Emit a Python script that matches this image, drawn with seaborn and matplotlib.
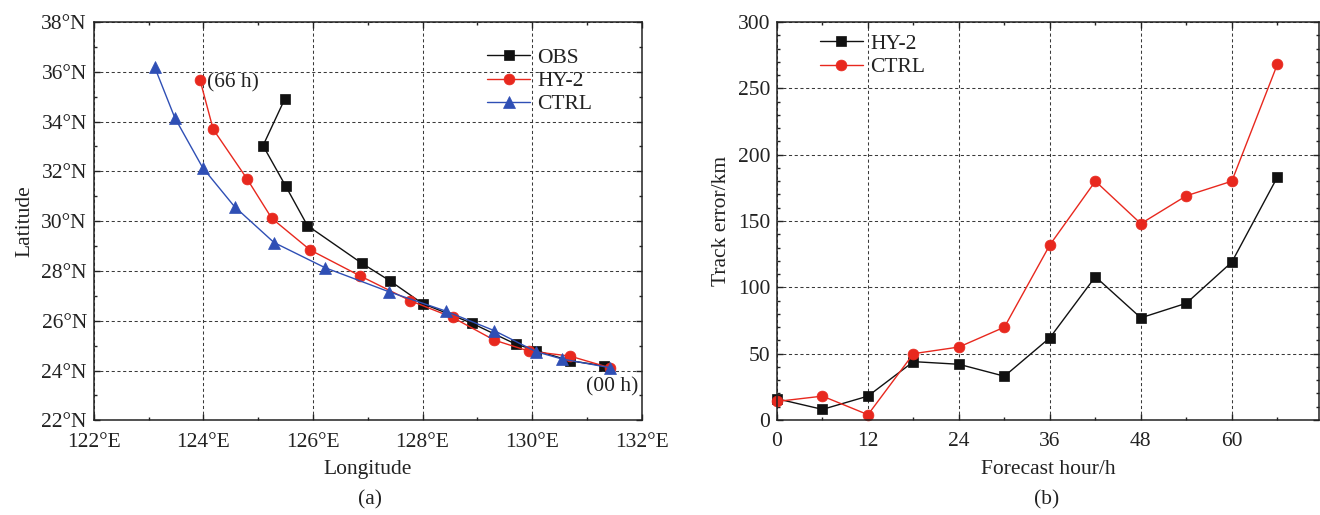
import numpy as np
import pandas as pd
import matplotlib
matplotlib.use("Agg")
import matplotlib.pyplot as plt
from matplotlib.ticker import MultipleLocator, FuncFormatter
import seaborn as sns

# ---------------- data ----------------
obs_lon = [131.31, 130.69, 130.08, 129.70, 128.90, 128.00, 127.40, 126.89, 125.90, 125.50, 125.09, 125.49]
obs_lat = [24.19, 24.39, 24.80, 25.06, 25.90, 26.69, 27.61, 28.31, 29.82, 31.42, 33.03, 34.92]

hy2_lon = [131.42, 130.69, 129.94, 129.31, 128.55, 127.78, 126.86, 125.95, 125.25, 124.80, 124.18, 123.94]
hy2_lat = [24.11, 24.58, 24.78, 25.22, 26.13, 26.80, 27.80, 28.84, 30.11, 31.69, 33.69, 35.67]

ctrl_lon = [131.43, 130.55, 130.08, 129.31, 128.42, 127.39, 126.22, 125.29, 124.57, 123.99, 123.48, 123.11]
ctrl_lat = [24.11, 24.46, 24.75, 25.60, 26.39, 27.16, 28.13, 29.14, 30.58, 32.14, 34.15, 36.20]

hours = [0, 6, 12, 18, 24, 30, 36, 42, 48, 54, 60, 66]
err_hy2 = [16, 8, 18, 44, 42, 33, 62, 108, 77, 88, 119, 183]
err_ctrl = [14, 18, 4, 50, 55, 70, 132, 180, 148, 169, 180, 268]

lon_ticks = [122, 124, 126, 128, 130, 132]
lat_ticks = [22, 24, 26, 28, 30, 32, 34, 36, 38]
hour_ticks = [0, 12, 24, 36, 48, 60]
err_ticks = [0, 50, 100, 150, 200, 250, 300]

# ---------------- style ----------------
sns.set_style("ticks")
plt.rcParams['font.family'] = ['Liberation Serif', 'DejaVu Serif']
plt.rcParams['mathtext.fontset'] = 'stix'

FS = 15.5
BLACK = '#111111'
RED = '#e8281e'
BLUE = '#2f4fb5'
TXT = '#222222'

fig = plt.figure(figsize=(13.2, 5.15), dpi=100)
W, H = 1320, 515
axL = fig.add_axes([93.7 / W, (H - 420.3) / H, 548 / W, 398.4 / H])
axR = fig.add_axes([777 / W, (H - 420) / H, 542 / W, 398 / H])


def style_axes(ax):
    for s in ax.spines.values():
        s.set_linewidth(1.1)
        s.set_color('#222222')
        s.set_visible(True)
    ax.tick_params(which='both', direction='in', top=True, right=True,
                   colors='#222222', labelcolor=TXT, labelsize=FS, width=1.0)
    ax.tick_params(which='major', length=4.5)
    ax.tick_params(which='minor', length=2.5)
    ax.tick_params(axis='x', which='major', pad=9)
    ax.tick_params(axis='y', which='major', pad=5)
    ax.grid(True, which='major', linestyle=(0, (3, 2.5)), color='#3a3a3a', linewidth=0.75)
    ax.set_axisbelow(True)


# ---------------- left: tracks ----------------
df_obs = pd.DataFrame({'lon': obs_lon, 'lat': obs_lat})
df_hy2 = pd.DataFrame({'lon': hy2_lon, 'lat': hy2_lat})
df_ctrl = pd.DataFrame({'lon': ctrl_lon, 'lat': ctrl_lat})

sns.lineplot(data=df_obs, x='lon', y='lat', sort=False, ax=axL, color=BLACK, lw=1.0,
             marker='s', markersize=6.8, markeredgecolor=BLACK, markeredgewidth=0.5, label='OBS')
sns.lineplot(data=df_hy2, x='lon', y='lat', sort=False, ax=axL, color=RED, lw=1.0,
             marker='o', markersize=7.8, markeredgecolor=RED, markeredgewidth=0.5, label='HY-2')
sns.lineplot(data=df_ctrl, x='lon', y='lat', sort=False, ax=axL, color=BLUE, lw=1.0,
             marker='^', markersize=8.5, markeredgecolor=BLUE, markeredgewidth=0.5, label='CTRL')

axL.set_xlim(122, 132)
axL.set_ylim(22, 38)
axL.set_xticks(lon_ticks)
axL.set_yticks(lat_ticks)
axL.xaxis.set_minor_locator(MultipleLocator(1))
axL.yaxis.set_minor_locator(MultipleLocator(1))
axL.xaxis.set_major_formatter(FuncFormatter(lambda v, p: f"{int(round(v))}°E"))
axL.yaxis.set_major_formatter(FuncFormatter(lambda v, p: f"{int(round(v))}°N"))
style_axes(axL)
axL.set_xlabel('Longitude', fontsize=FS, color=TXT, labelpad=6)
axL.set_ylabel('Latitude', fontsize=FS, color=TXT, labelpad=5)

axL.text(124.07, 35.55, '(66 h)', fontsize=FS, color=TXT, ha='left', va='center')
axL.text(131.94, 23.35, '(00 h)', fontsize=FS, color=TXT, ha='right', va='center')

legL = axL.legend(loc='upper left', bbox_to_anchor=(0.718, 0.935), frameon=False,
                  fontsize=FS, borderpad=0, borderaxespad=0, handlelength=2.0,
                  handletextpad=0.33, labelspacing=0.15)
for t in legL.get_texts():
    t.set_color(TXT)

# ---------------- right: track error ----------------
df_err = pd.DataFrame({'hour': hours, 'HY-2': err_hy2, 'CTRL': err_ctrl})
sns.lineplot(data=df_err, x='hour', y='HY-2', ax=axR, color=BLACK, lw=1.0,
             marker='s', markersize=6.8, markeredgecolor=BLACK, markeredgewidth=0.5,
             label='HY-2', clip_on=False)
sns.lineplot(data=df_err, x='hour', y='CTRL', ax=axR, color=RED, lw=1.0,
             marker='o', markersize=7.8, markeredgecolor=RED, markeredgewidth=0.5,
             label='CTRL', clip_on=False)

axR.set_xlim(0, 71.5)
axR.set_ylim(0, 300)
axR.set_xticks(hour_ticks)
axR.set_yticks(err_ticks)
axR.xaxis.set_minor_locator(MultipleLocator(6))
axR.yaxis.set_minor_locator(MultipleLocator(10))
style_axes(axR)
axR.set_xlabel('Forecast hour/h', fontsize=FS, color=TXT, labelpad=6)
axR.set_ylabel('Track error/km', fontsize=FS, color=TXT, labelpad=5)

legR = axR.legend(loc='upper left', bbox_to_anchor=(0.079, 0.97), frameon=False,
                  fontsize=FS, borderpad=0, borderaxespad=0, handlelength=2.0,
                  handletextpad=0.33, labelspacing=0.15)
for t in legR.get_texts():
    t.set_color(TXT)

fig.text(370 / W, 1 - 500 / H, '(a)', fontsize=FS, color=TXT, ha='center', va='center')
fig.text(1047 / W, 1 - 500 / H, '(b)', fontsize=FS, color=TXT, ha='center', va='center')

fig.savefig('out.png', dpi=100)
